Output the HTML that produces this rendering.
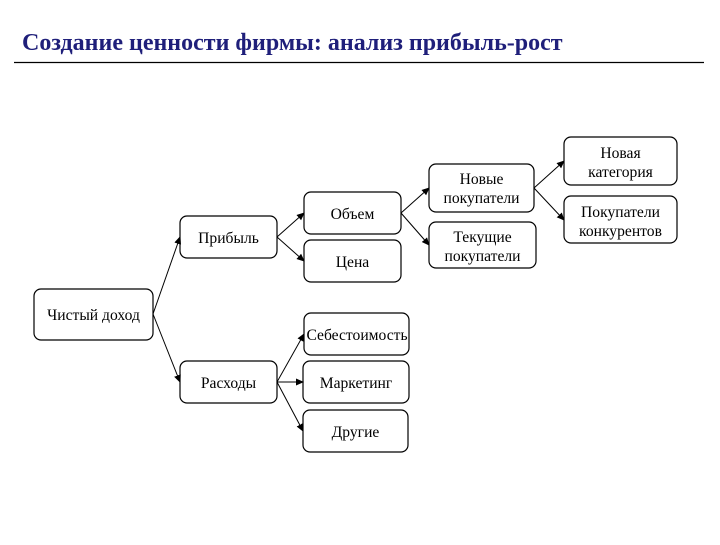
<!DOCTYPE html>
<html><head><meta charset="utf-8"><style>
body{margin:0;background:#fff;width:720px;height:540px;overflow:hidden}
svg text{font-family:"Liberation Serif",serif;font-size:15.6px;fill:#000}
</style></head><body>
<svg width="720" height="540" xmlns="http://www.w3.org/2000/svg">
<defs><marker id="a" markerWidth="8" markerHeight="8" refX="7" refY="4" orient="auto" markerUnits="userSpaceOnUse"><path d="M0,0.5 L8,4 L0,7.5z" fill="#000"/></marker></defs>
<text x="22" y="50" style="font-size:24px;font-weight:bold;fill:#1f1f7a">Создание ценности фирмы: анализ прибыль-рост</text>
<line x1="14" y1="62.5" x2="704" y2="62.5" stroke="#000" stroke-width="1.3"/>
<g fill="#fff" stroke="#000" stroke-width="1.2">
<rect x="34" y="289" width="119" height="51" rx="7"/>
<rect x="180" y="216" width="97" height="42" rx="7"/>
<rect x="180" y="361" width="97" height="42" rx="7"/>
<rect x="304" y="192" width="97" height="42" rx="7"/>
<rect x="304" y="240" width="97" height="42" rx="7"/>
<rect x="304" y="313" width="105" height="42" rx="7"/>
<rect x="303" y="361" width="106" height="42" rx="7"/>
<rect x="303" y="410" width="105" height="42" rx="7"/>
<rect x="429" y="164" width="105" height="48" rx="7"/>
<rect x="429" y="222" width="107" height="46" rx="7"/>
<rect x="564" y="137" width="113" height="48" rx="7"/>
<rect x="564" y="196" width="113" height="47" rx="7"/>
</g>
<g stroke="#000" stroke-width="1" marker-end="url(#a)">
<line x1="153" y1="314" x2="180" y2="237"/>
<line x1="153" y1="314" x2="180" y2="382"/>
<line x1="277" y1="237" x2="304" y2="213"/>
<line x1="277" y1="237" x2="304" y2="261"/>
<line x1="277" y1="382" x2="304" y2="334"/>
<line x1="277" y1="382" x2="303" y2="382"/>
<line x1="277" y1="382" x2="303" y2="431"/>
<line x1="401" y1="213" x2="429" y2="188"/>
<line x1="401" y1="213" x2="429" y2="245"/>
<line x1="534" y1="188" x2="564" y2="161"/>
<line x1="534" y1="188" x2="564" y2="220"/>
</g>
<g text-anchor="middle">
<text x="93.5" y="320">Чистый доход</text>
<text x="228.5" y="243">Прибыль</text>
<text x="228.5" y="388">Расходы</text>
<text x="352.5" y="219">Объем</text>
<text x="352.5" y="267">Цена</text>
<text x="357" y="340">Себестоимость</text>
<text x="356" y="388">Маркетинг</text>
<text x="355.5" y="437">Другие</text>
<text x="481.5" y="184">Новые</text>
<text x="481.5" y="203">покупатели</text>
<text x="482.5" y="242">Текущие</text>
<text x="482.5" y="261">покупатели</text>
<text x="620.5" y="158">Новая</text>
<text x="620.5" y="177">категория</text>
<text x="620.5" y="217">Покупатели</text>
<text x="620.5" y="236">конкурентов</text>
</g>
</svg>
</body></html>
